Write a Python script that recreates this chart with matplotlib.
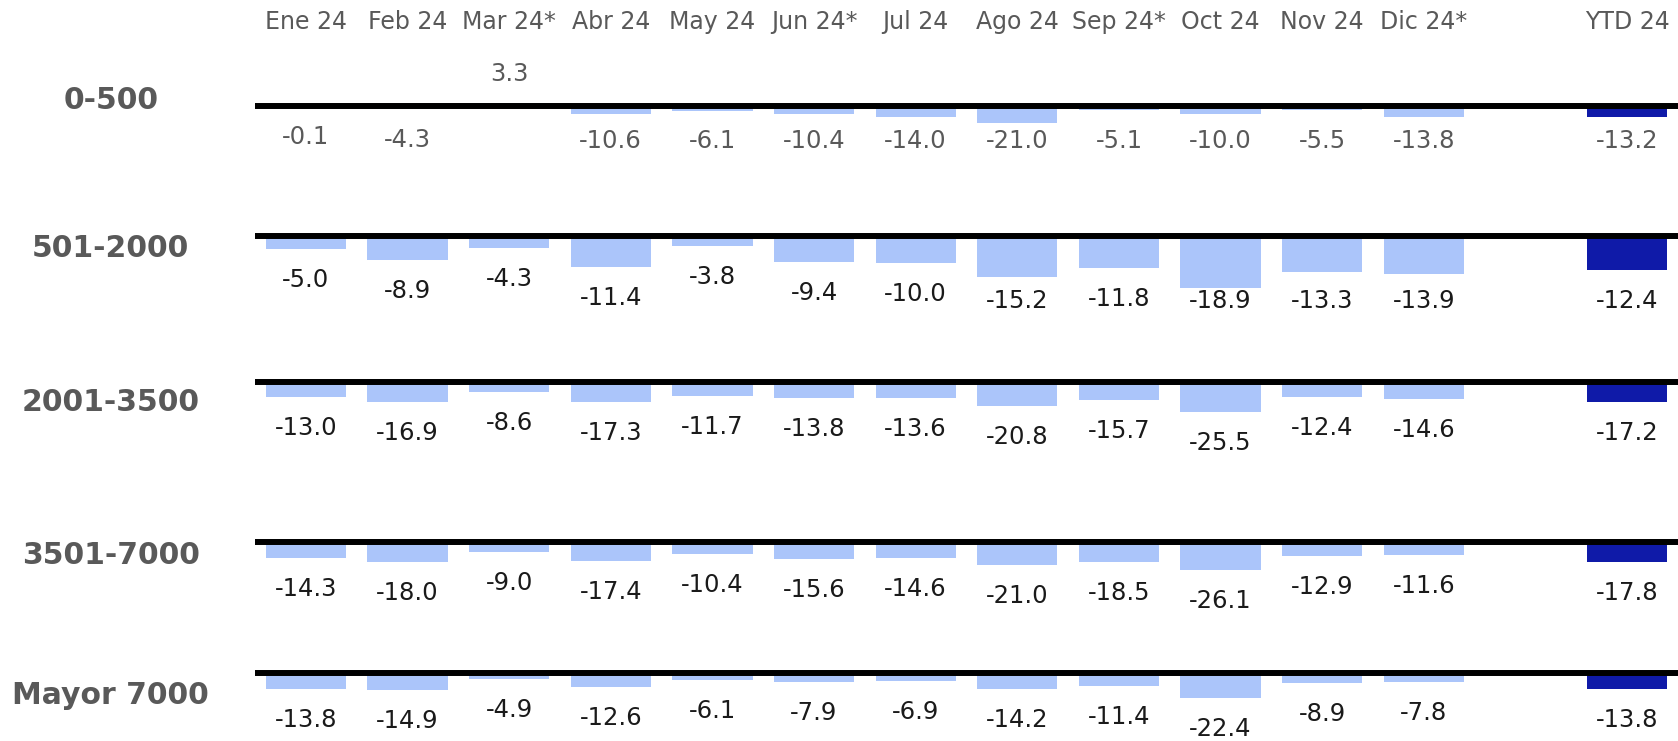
import matplotlib
matplotlib.use("Agg")
import matplotlib.pyplot as plt
from matplotlib.transforms import blended_transform_factory

# meses y tramos
meses = ["Ene 24", "Feb 24", "Mar 24*", "Abr 24", "May 24", "Jun 24*",
         "Jul 24", "Ago 24", "Sep 24*", "Oct 24", "Nov 24", "Dic 24*"]
etiqueta_ytd = "YTD 24"
tramos = ["0-500", "501-2000", "2001-3500", "3501-7000", "Mayor 7000"]

# variación % por tramo (12 meses)
var_0_500 = [-0.1, -4.3, 3.3, -10.6, -6.1, -10.4, -14.0, -21.0, -5.1, -10.0, -5.5, -13.8]
var_501_2000 = [-5.0, -8.9, -4.3, -11.4, -3.8, -9.4, -10.0, -15.2, -11.8, -18.9, -13.3, -13.9]
var_2001_3500 = [-13.0, -16.9, -8.6, -17.3, -11.7, -13.8, -13.6, -20.8, -15.7, -25.5, -12.4, -14.6]
var_3501_7000 = [-14.3, -18.0, -9.0, -17.4, -10.4, -15.6, -14.6, -21.0, -18.5, -26.1, -12.9, -11.6]
var_mayor_7000 = [-13.8, -14.9, -4.9, -12.6, -6.1, -7.9, -6.9, -14.2, -11.4, -22.4, -8.9, -7.8]
ytd = [-13.2, -12.4, -17.2, -17.8, -13.8]

series = [var_0_500, var_501_2000, var_2001_3500, var_3501_7000, var_mayor_7000]

# geometría (px): línea cero de cada fila, px por punto, tope inferior de etiquetas
W, H = 1678, 741
linea_px = [105.7, 235.7, 382.0, 542.3, 673.0]
escala = [0.82, 2.75, 1.17, 1.08, 1.13]
tope_px = [35.8, 65.3, None, None, None]
tramo_y_px = [100.5, 248.5, 402.4, 556.0, 695.0]
color_valor = ["#595959", "#1a1a1a", "#1a1a1a", "#1a1a1a", "#1a1a1a"]

CLARO = "#abc5fa"
OSCURO = "#0f1aa8"
GRIS = "#595959"
OFF = 31  # separación etiqueta-barra en px
FUENTE = "DejaVu Sans"

fig = plt.figure(figsize=(W / 100, H / 100), dpi=100)
x_meses = list(range(12))
x_ytd = 13
left = 255 / W
arriba, abajo = 45, 80

for i, vals in enumerate(series):
    s = escala[i]
    y0 = linea_px[i]
    bottom = 1 - (y0 + abajo) / H
    ax = fig.add_axes([left, bottom, 1 - left, (arriba + abajo) / H])
    ax.set_xlim(-0.5, 13.5)
    ax.set_ylim(-abajo / s, arriba / s)
    ax.axis("off")

    ax.bar(x_meses, vals, width=0.79, color=CLARO, zorder=1)
    ax.bar([x_ytd], [ytd[i]], width=0.79, color=OSCURO, zorder=1)
    ax.axhline(0, color="black", lw=4.3, zorder=3)

    for x, v in zip(x_meses + [x_ytd], vals + [ytd[i]]):
        if v >= 0:
            y = v + (OFF - 2) / s
        else:
            y = v - OFF / s
            if tope_px[i] is not None:
                y = max(y, -tope_px[i] / s)
        ax.text(x, y, f"{v:.1f}", ha="center", va="center", fontsize=17.5,
                color=color_valor[i], family=FUENTE, clip_on=False)

    fig.text(110.8 / W, 1 - tramo_y_px[i] / H, tramos[i], ha="center", va="center",
             fontsize=21.5, fontweight="bold", color=GRIS, family=FUENTE)

# encabezados de columnas, en y fija de figura
ax0 = fig.axes[0]
trans = blended_transform_factory(ax0.transData, fig.transFigure)
for x, m in zip(x_meses + [x_ytd], meses + [etiqueta_ytd]):
    ax0.text(x, 1 - 22 / H, m, ha="center", va="center", fontsize=17,
             color=GRIS, family=FUENTE, transform=trans, clip_on=False)

fig.savefig("out.png", dpi=100)
